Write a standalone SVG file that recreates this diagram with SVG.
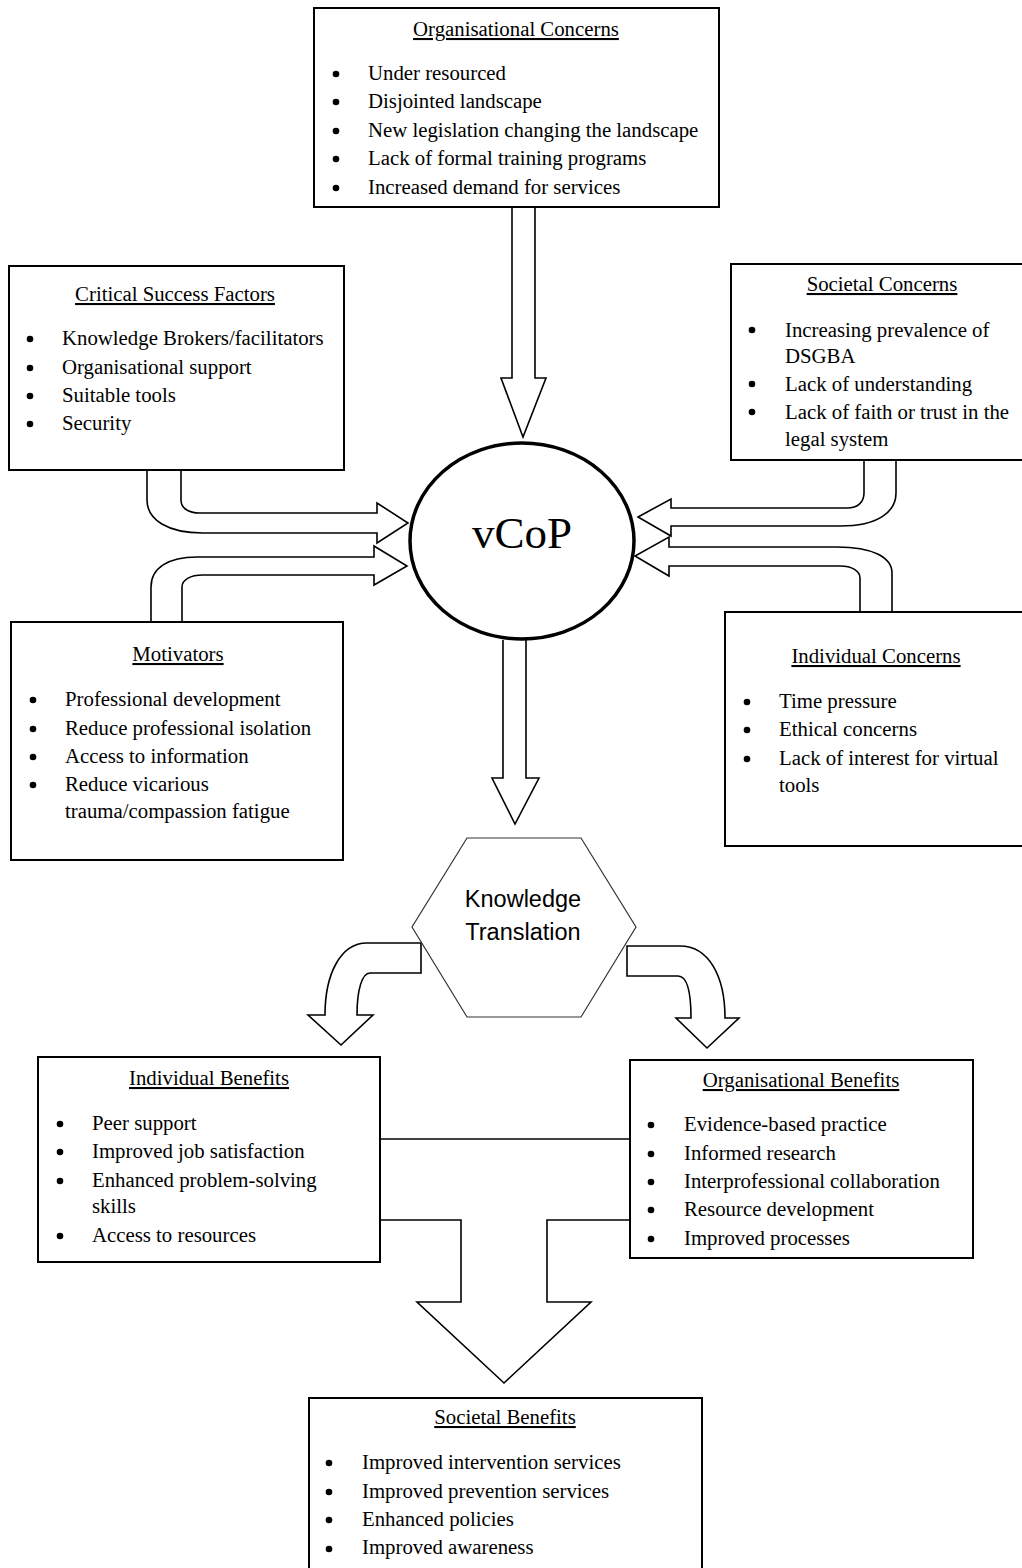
<svg xmlns="http://www.w3.org/2000/svg" width="1022" height="1568" viewBox="0 0 1022 1568">
<style>
.box{fill:#fff;stroke:#000;stroke-width:2}
.arr{fill:#fff;stroke:#000;stroke-width:1.6;stroke-linejoin:miter}
.t{font-family:"Liberation Serif","Times New Roman",serif;font-size:20.8px;fill:#000}
.h{font-family:"Liberation Serif","Times New Roman",serif;font-size:20.8px;fill:#000;text-anchor:middle;text-decoration:underline}
.b{fill:#000}
</style>
<rect width="1022" height="1568" fill="#fff"/>
<g id="connectors">
<path class="arr" d="M512,207 V378 H501 L523,437 L546,378 H535 V207"/>
<path class="arr" d="M503,640 V778 H492 L515,824 L539,778 H526 V640"/>
<path class="arr" d="M147,470 V500 C147,520 168,533 203,533 H377 V543 L408,523 L377,503 V513 H200 C188,513 181,508 181,500 V470"/>
<path class="arr" d="M151,622 V587 C151,568 168,557 197,557 H374 V546 L407,566 L374,585 V575 H203 C190,575 182,580 182,587 V622"/>
<path class="arr" d="M896,460 V493 C896,512 878,526 840,526 H671 V536 L638,517 L671,499 V508 H847 C858,508 864,502 864,493 V460"/>
<path class="arr" d="M892,612 V573 C892,557 872,547 837,547 H669 V537 L635,556 L669,576 V566 H840 C852,566 860,571 860,578 V612"/>
<path class="arr" d="M421,943 H367 C340,943 325,975 325,1015 H308 L341,1045 L373,1015 H357 C357,990 362,973 370,973 H421 Z"/>
<path class="arr" d="M627,946 H680 C708,946 725,975 725,1018 H739 L707,1048 L676,1018 H691 C691,992 687,976 678,976 H627 Z"/>
<path class="arr" d="M380,1139 H630"/>
<path class="arr" d="M380,1220 H461 V1302 H417 L504,1383 L591,1302 H547 V1220 H630"/>
</g>
<g id="vcop">
<ellipse cx="522" cy="541" rx="112" ry="98" fill="#fff" stroke="#000" stroke-width="3.5"/>
<text x="522" y="548" font-family="Liberation Serif,Times New Roman,serif" font-size="45" text-anchor="middle">vCoP</text>
</g>
<g id="knowledge-translation">
<polygon points="467,838 581,838 636,927 581,1017 467,1017 412,927" fill="#fff" stroke="#333" stroke-width="1.2"/>
<text x="523" y="907" font-family="Liberation Sans,Arial,sans-serif" font-size="23.5" text-anchor="middle">Knowledge</text>
<text x="523" y="940" font-family="Liberation Sans,Arial,sans-serif" font-size="23.5" text-anchor="middle">Translation</text>
</g>
<g id="organisational-concerns">
<rect class="box" x="314" y="8" width="405" height="199"/>
<text class="h" x="516" y="36">Organisational Concerns</text>
<circle class="b" cx="336" cy="74" r="3.3"/><text class="t" x="368" y="80">Under resourced</text>
<circle class="b" cx="336" cy="102" r="3.3"/><text class="t" x="368" y="108">Disjointed landscape</text>
<circle class="b" cx="336" cy="131" r="3.3"/><text class="t" x="368" y="137">New legislation changing the landscape</text>
<circle class="b" cx="336" cy="159" r="3.3"/><text class="t" x="368" y="165">Lack of formal training programs</text>
<circle class="b" cx="336" cy="188" r="3.3"/><text class="t" x="368" y="194">Increased demand for services</text>
</g>
<g id="critical-success-factors">
<rect class="box" x="9" y="266" width="335" height="204"/>
<text class="h" x="175" y="301">Critical Success Factors</text>
<circle class="b" cx="30" cy="339" r="3.3"/><text class="t" x="62" y="345">Knowledge Brokers/facilitators</text>
<circle class="b" cx="30" cy="368" r="3.3"/><text class="t" x="62" y="374">Organisational support</text>
<circle class="b" cx="30" cy="396" r="3.3"/><text class="t" x="62" y="402">Suitable tools</text>
<circle class="b" cx="30" cy="424" r="3.3"/><text class="t" x="62" y="430">Security</text>
</g>
<g id="societal-concerns">
<rect class="box" x="731" y="264" width="300" height="196"/>
<text class="h" x="882" y="291">Societal Concerns</text>
<circle class="b" cx="752" cy="330" r="3.3"/><text class="t" x="785" y="337">Increasing prevalence of</text>
<text class="t" x="785" y="363">DSGBA</text>
<circle class="b" cx="752" cy="384" r="3.3"/><text class="t" x="785" y="391">Lack of understanding</text>
<circle class="b" cx="752" cy="412" r="3.3"/><text class="t" x="785" y="419">Lack of faith or trust in the</text>
<text class="t" x="785" y="446">legal system</text>
</g>
<g id="motivators">
<rect class="box" x="11" y="622" width="332" height="238"/>
<text class="h" x="178" y="661">Motivators</text>
<circle class="b" cx="33" cy="700" r="3.3"/><text class="t" x="65" y="706">Professional development</text>
<circle class="b" cx="33" cy="729" r="3.3"/><text class="t" x="65" y="735">Reduce professional isolation</text>
<circle class="b" cx="33" cy="757" r="3.3"/><text class="t" x="65" y="763">Access to information</text>
<circle class="b" cx="33" cy="785" r="3.3"/><text class="t" x="65" y="791">Reduce vicarious</text>
<text class="t" x="65" y="818">trauma/compassion fatigue</text>
</g>
<g id="individual-concerns">
<rect class="box" x="725" y="612" width="306" height="234"/>
<text class="h" x="876" y="663">Individual Concerns</text>
<circle class="b" cx="747" cy="702" r="3.3"/><text class="t" x="779" y="708">Time pressure</text>
<circle class="b" cx="747" cy="730" r="3.3"/><text class="t" x="779" y="736">Ethical concerns</text>
<circle class="b" cx="747" cy="759" r="3.3"/><text class="t" x="779" y="765">Lack of interest for virtual</text>
<text class="t" x="779" y="792">tools</text>
</g>
<g id="individual-benefits">
<rect class="box" x="38" y="1057" width="342" height="205"/>
<text class="h" x="209" y="1085">Individual Benefits</text>
<circle class="b" cx="60" cy="1124" r="3.3"/><text class="t" x="92" y="1130">Peer support</text>
<circle class="b" cx="60" cy="1152" r="3.3"/><text class="t" x="92" y="1158">Improved job satisfaction</text>
<circle class="b" cx="60" cy="1181" r="3.3"/><text class="t" x="92" y="1187">Enhanced problem-solving</text>
<text class="t" x="92" y="1213">skills</text>
<circle class="b" cx="60" cy="1236" r="3.3"/><text class="t" x="92" y="1242">Access to resources</text>
</g>
<g id="organisational-benefits">
<rect class="box" x="630" y="1060" width="343" height="198"/>
<text class="h" x="801" y="1087">Organisational Benefits</text>
<circle class="b" cx="651" cy="1125" r="3.3"/><text class="t" x="684" y="1131">Evidence-based practice</text>
<circle class="b" cx="651" cy="1154" r="3.3"/><text class="t" x="684" y="1160">Informed research</text>
<circle class="b" cx="651" cy="1182" r="3.3"/><text class="t" x="684" y="1188">Interprofessional collaboration</text>
<circle class="b" cx="651" cy="1210" r="3.3"/><text class="t" x="684" y="1216">Resource development</text>
<circle class="b" cx="651" cy="1239" r="3.3"/><text class="t" x="684" y="1245">Improved processes</text>
</g>
<g id="societal-benefits">
<rect class="box" x="309" y="1398" width="393" height="190"/>
<text class="h" x="505" y="1424">Societal Benefits</text>
<circle class="b" cx="329" cy="1463" r="3.3"/><text class="t" x="362" y="1469">Improved intervention services</text>
<circle class="b" cx="329" cy="1492" r="3.3"/><text class="t" x="362" y="1498">Improved prevention services</text>
<circle class="b" cx="329" cy="1520" r="3.3"/><text class="t" x="362" y="1526">Enhanced policies</text>
<circle class="b" cx="329" cy="1549" r="3.3"/><text class="t" x="362" y="1554">Improved awareness</text>
</g>
</svg>
